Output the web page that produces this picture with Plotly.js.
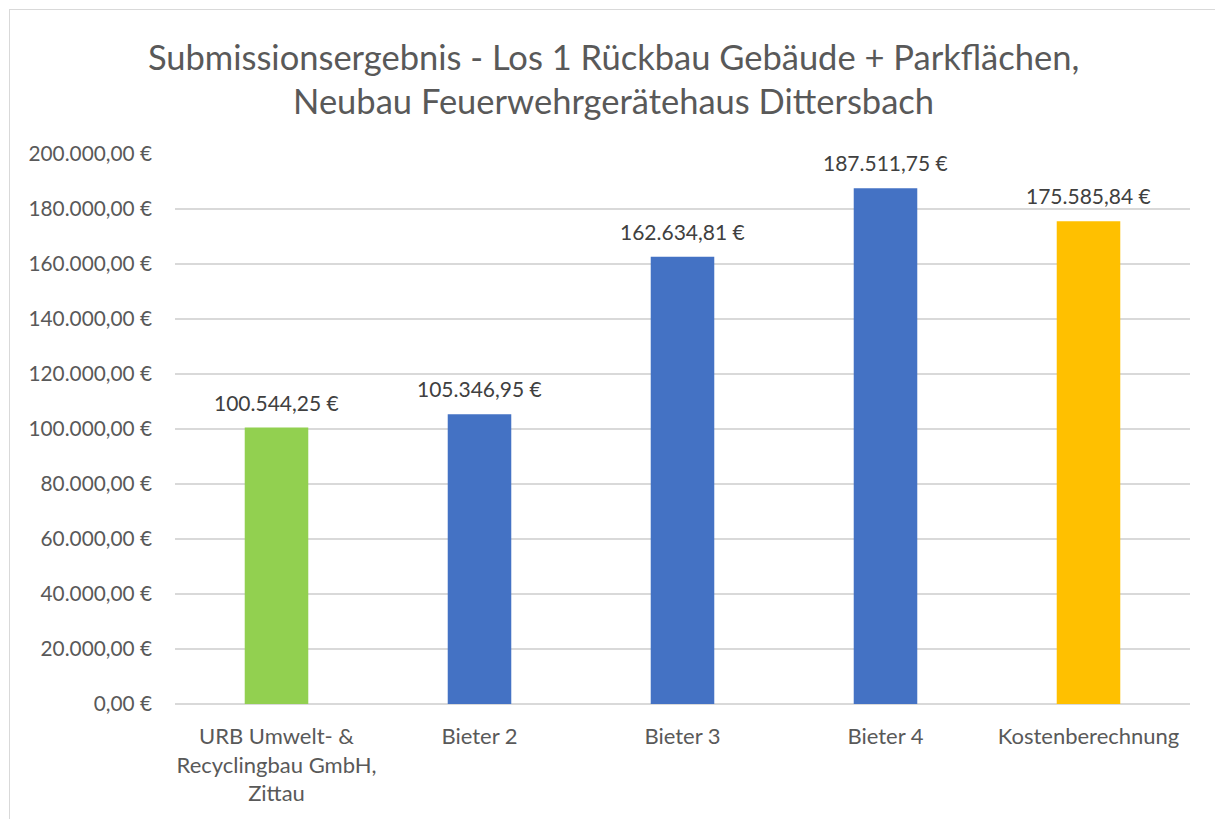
<!DOCTYPE html>
<html>
<head>
<meta charset="utf-8">
<script src="https://cdn.plot.ly/plotly-3.0.1.min.js"></script>
<style>
  html, body { margin: 0; padding: 0; background: #fff; }
  #chart { width: 1215px; height: 819px; position: absolute; left: 0; top: 0; }
  #frame { position: absolute; left: 9px; top: 9px; width: 1220px; height: 830px;
           border-left: 1px solid #d9d9d9; border-top: 1px solid #d9d9d9; pointer-events: none; }
</style>
</head>
<body>
<div id="chart"></div>
<div id="frame"></div>
<script>
const categories = ["URB Umwelt- &<br>Recyclingbau GmbH,<br>Zittau", "Bieter 2", "Bieter 3", "Bieter 4", "Kostenberechnung"];
const values = [100544.25, 105346.95, 162634.81, 187511.75, 175585.84];
const barColors = ["#92D050", "#4472C4", "#4472C4", "#4472C4", "#FFC000"];
const titleText = "Submissionsergebnis - Los 1 Rückbau Gebäude + Parkflächen,<br>Neubau Feuerwehrgerätehaus Dittersbach";

const FONT = "Lato, 'Open Sans', sans-serif";

const trace = {
  type: "bar",
  x: categories,
  y: values,
  marker: { color: barColors },
  hoverinfo: "skip"
};

function fmt(v) {
  const s = v.toFixed(2).split(".");
  const int = s[0].replace(/\B(?=(\d{3})+(?!\d))/g, ".");
  return int + "," + s[1] + " €";
}

const annotations = categories.map((c, i) => ({
  x: c, y: values[i], xref: "x", yref: "y",
  text: fmt(values[i]),
  showarrow: false, yanchor: "bottom", yshift: 11,
  font: { family: FONT, size: 21, color: "#404040" }
}));

const layout = {
  width: 1215, height: 819,
  margin: { l: 175, r: 25, t: 154, b: 115 },
  paper_bgcolor: "#ffffff", plot_bgcolor: "#ffffff",
  separators: ",.",
  showlegend: false,
  bargap: 0.687,
  title: {
    text: titleText,
    font: { family: FONT, size: 34.5, color: "#595959" },
    x: 0.505, xanchor: "center", y: 0.915, yanchor: "top"
  },
  xaxis: {
    type: "category",
    tickfont: { family: FONT, size: 22, color: "#595959" },
    showgrid: false, zeroline: false, showline: false,
    ticks: "", ticklabelstandoff: 17
  },
  yaxis: {
    range: [0, 200000], dtick: 20000, tick0: 0,
    tickformat: ",.2f", ticksuffix: " €",
    tickfont: { family: FONT, size: 20.8, color: "#595959" },
    gridcolor: "#d9d9d9", gridwidth: 1.3,
    zeroline: true, zerolinecolor: "#d9d9d9", zerolinewidth: 1.3,
    showline: false, ticks: "", ticklabelstandoff: 22
  },
  annotations: annotations
};

Plotly.newPlot("chart", [trace], layout, { displayModeBar: false, staticPlot: true });
</script>
</body>
</html>
